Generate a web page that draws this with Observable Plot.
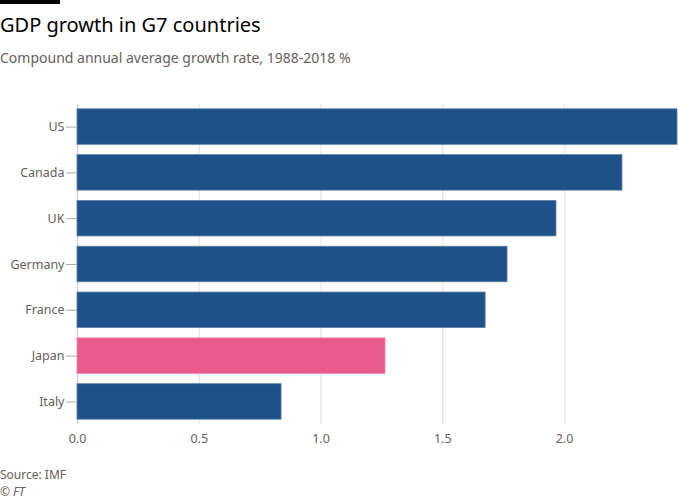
<!DOCTYPE html>
<html>
<head>
<meta charset="utf-8">
<script src="https://cdn.jsdelivr.net/npm/d3@7"></script>
<script src="https://cdn.jsdelivr.net/npm/@observablehq/plot@0.6"></script>
<style>
  html, body { margin: 0; padding: 0; background: #fff; width: 678px; height: 501px; overflow: hidden; }
  body { position: relative; font-family: "Noto Sans", sans-serif; }
  .bar { position: absolute; left: 0; top: 0; width: 60px; height: 4px; background: #000; }
  .title { position: absolute; left: 0; top: 11px; font-size: 20px; color: #000; line-height: 28px; white-space: nowrap; }
  .subtitle { position: absolute; left: 0; top: 48px; font-size: 14px; color: #66605c; line-height: 20px; white-space: nowrap; }
  #chart { position: absolute; left: 0; top: 80px; }
  .source { position: absolute; left: 0; top: 466px; font-size: 12px; color: #66605c; line-height: 17px; }
  .ft { position: absolute; left: 0; top: 483px; font-size: 12px; color: #66605c; line-height: 17px; font-style: italic; }
</style>
</head>
<body>
<div class="bar"></div>
<div class="title">GDP growth in G7 countries</div>
<div class="subtitle">Compound annual average growth rate, 1988-2018 %</div>
<div id="chart"></div>
<div class="source">Source: IMF</div>
<div class="ft">© FT</div>
<script>
const countries = ["US", "Canada", "UK", "Germany", "France", "Japan", "Italy"];
const growth = [2.464, 2.238, 1.967, 1.766, 1.676, 1.265, 0.838];
const highlight = ["Japan"];
const xTicks = [0, 0.5, 1.0, 1.5, 2.0];

const data = countries.map((c, i) => ({country: c, value: growth[i], hl: highlight.includes(c)}));

const plot = Plot.plot({
  width: 678,
  height: 370,
  marginLeft: 77,
  marginRight: 1,
  marginTop: 24,
  marginBottom: 26,
  style: {fontFamily: "Noto Sans, sans-serif", fontSize: "12.5px", color: "#66605c", background: "#fff"},
  x: {domain: [0, 2.464], ticks: xTicks, tickFormat: d => d.toFixed(1), label: null},
  y: {domain: countries, paddingInner: 0.225, paddingOuter: 0.105, align: 0.5, round: false, label: null},
  marks: [
    Plot.ruleX(xTicks.slice(1), {stroke: "#ebe5e0", strokeWidth: 1.3}),
    Plot.ruleX([0], {stroke: "#cfcbc8", strokeWidth: 1.3}),
    Plot.barX(data, {
      y: "country", x: "value",
      fill: d => d.hl ? "#eb5a8c" : "#1f5189",
      stroke: d => d.hl ? "#f08bb0" : "#5a7fa8",
      strokeWidth: 0.8
    }),
    Plot.axisY({tickSize: 11, tickPadding: 2, stroke: "#aaa", fill: "#66605c", fontSize: 12.5}),
    Plot.axisX({ticks: xTicks, tickFormat: d => d.toFixed(1), tickSize: 0, tickPadding: 10, fill: "#66605c", fontSize: 12.5})
  ]
});
document.getElementById("chart").appendChild(plot);
</script>
</body>
</html>
